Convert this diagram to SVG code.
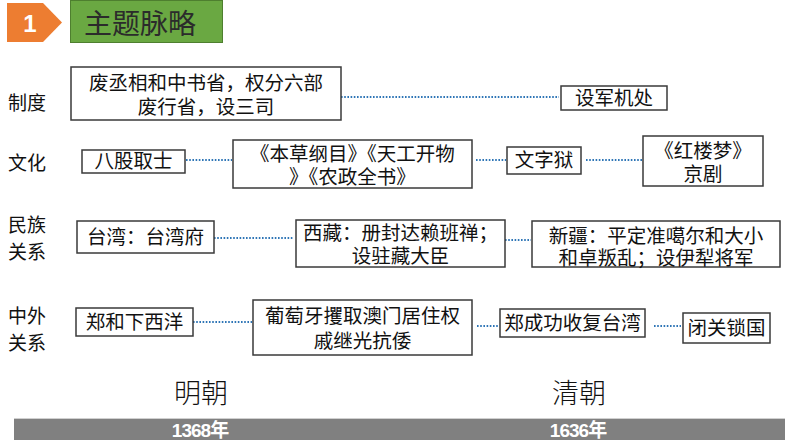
<svg xmlns="http://www.w3.org/2000/svg" width="794" height="447" viewBox="0 0 794 447">
<style>
.bx{fill:#fff;stroke:#3a3a3a;stroke-width:1.5}
.t{font-family:"Liberation Sans","Noto Sans CJK SC",sans-serif;font-size:19.5px;fill:#111;text-anchor:middle}
.lb{font-family:"Liberation Sans","Noto Sans CJK SC",sans-serif;font-size:19px;fill:#111}
.dyn{font-family:"Noto Sans CJK SC",serif;font-size:27px;font-weight:300;fill:#111;text-anchor:middle}
.yr{font-family:"Liberation Sans","Noto Sans CJK SC",sans-serif;font-size:19px;font-weight:bold;fill:#fff;text-anchor:middle;letter-spacing:-1px}
.c{stroke:#2e75b6;stroke-width:2;stroke-dasharray:1.6 1.6;fill:none}
</style>
<rect width="794" height="447" fill="#fff"/>
<g id="header">
<polygon points="7,3 43,3 62,22.5 43,42 7,42" fill="#ed7d31"/>
<text x="30" y="32" font-family="Liberation Sans,sans-serif" font-size="24" font-weight="bold" fill="#fff" text-anchor="middle">1</text>
<rect x="70.5" y="0.5" width="152" height="42" fill="#6aa842" stroke="#4e7f2f" stroke-width="1"/>
<text x="140" y="34" font-family="'Noto Sans CJK SC',sans-serif" font-size="28" fill="#2b2b2b" text-anchor="middle">主题脉略</text>
</g>
<g id="row-labels">
<text class="lb" x="8" y="110">制度</text>
<text class="lb" x="8" y="170">文化</text>
<text class="lb" x="8" y="232">民族<tspan x="8" dy="27">关系</tspan></text>
<text class="lb" x="8" y="323">中外<tspan x="8" dy="27">关系</tspan></text>
</g>
<g id="connectors">
<line class="c" x1="341" y1="97" x2="559" y2="97"/>
<line class="c" x1="186" y1="160" x2="232" y2="160"/>
<line class="c" x1="476" y1="160" x2="506" y2="160"/>
<line class="c" x1="586" y1="160" x2="642" y2="160"/>
<line class="c" x1="214" y1="238" x2="293" y2="238"/>
<line class="c" x1="505" y1="240" x2="531" y2="240"/>
<line class="c" x1="193" y1="322" x2="252" y2="322"/>
<line class="c" x1="477" y1="326" x2="499" y2="326"/>
<line class="c" x1="654" y1="326" x2="681" y2="326"/>
</g>
<g id="n1"><rect class="bx" x="71" y="67" width="270" height="53"/><text class="t" x="206" y="90">废丞相和中书省，权分六部<tspan x="206" dy="24">废行省，设三司</tspan></text></g>
<g id="n2"><rect class="bx" x="561" y="86" width="106" height="24"/><text class="t" x="614" y="105">设军机处</text></g>
<g id="n3"><rect class="bx" x="82" y="150" width="103" height="23"/><text class="t" x="133.5" y="168">八股取士</text></g>
<g id="n4"><rect class="bx" x="233" y="140" width="239" height="48"/><text class="t" x="352.5" y="161">《本草纲目》《天工开物<tspan x="352.5" dy="23">》《农政全书》</tspan></text></g>
<g id="n5"><rect class="bx" x="507" y="147" width="74" height="27"/><text class="t" x="544" y="167">文字狱</text></g>
<g id="n6"><rect class="bx" x="643" y="136" width="120" height="50"/><text class="t" x="703" y="158">《红楼梦》<tspan x="703" dy="23">京剧</tspan></text></g>
<g id="n7"><rect class="bx" x="77" y="221" width="137" height="32"/><text class="t" x="145.5" y="244">台湾：台湾府</text></g>
<g id="n8"><rect class="bx" x="296" y="220" width="209" height="47"/><text class="t" x="400.5" y="240">西藏：册封达赖班禅；<tspan x="400.5" dy="23">设驻藏大臣</tspan></text></g>
<g id="n9"><rect class="bx" x="532" y="221" width="248" height="46"/><text class="t" x="656" y="243">新疆：平定准噶尔和大小<tspan x="656" dy="22">和卓叛乱；设伊犁将军</tspan></text></g>
<g id="n10"><rect class="bx" x="76" y="308" width="117" height="28"/><text class="t" x="134.5" y="329">郑和下西洋</text></g>
<g id="n11"><rect class="bx" x="253" y="300" width="219" height="55"/><text class="t" x="362.5" y="323">葡萄牙攫取澳门居住权<tspan x="362.5" dy="25">戚继光抗倭</tspan></text></g>
<g id="n12"><rect class="bx" x="500" y="309" width="145" height="28"/><text class="t" x="572.5" y="330">郑成功收复台湾</text></g>
<g id="n13"><rect class="bx" x="683" y="313" width="87" height="30"/><text class="t" x="726.5" y="335">闭关锁国</text></g>
<g id="timeline">
<text class="dyn" x="201" y="403">明朝</text>
<text class="dyn" x="579" y="403">清朝</text>
<rect x="14" y="418" width="771" height="22" fill="#808080"/>
<line x1="14" y1="418.5" x2="785" y2="418.5" stroke="#d0d0d0" stroke-width="1"/>
<text class="yr" x="200" y="437">1368年</text>
<text class="yr" x="578" y="437">1636年</text>
</g>
</svg>
